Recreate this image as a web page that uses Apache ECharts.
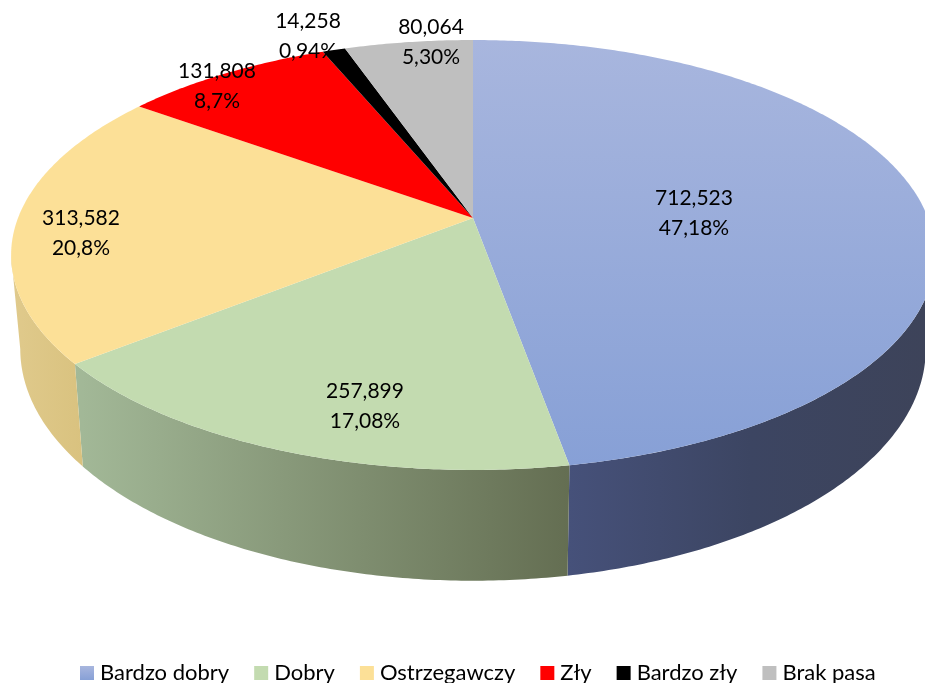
<!DOCTYPE html>
<html>
<head>
<meta charset="utf-8">
<style>html,body{margin:0;padding:0;background:#fff}#c{width:925px;height:683px}</style>
<script src="https://cdn.jsdelivr.net/npm/echarts@6/dist/echarts.min.js"></script>
</head>
<body>
<div id="c"></div>
<script>
var categories = ['Bardzo dobry', 'Dobry', 'Ostrzegawczy', 'Zły', 'Bardzo zły', 'Brak pasa'];
var values = [712523, 257899, 313582, 131808, 14258, 80064];
var valueLabels = ['712,523', '257,899', '313,582', '131,808', '14,258', '80,064'];
var percentLabels = ['47,18%', '17,08%', '20,8%', '8,7%', '0,94%', '5,30%'];

/* styling and layout, kept apart from the data */
var topColors = [['#a8b6de', '#87a0d6'], ['#c3dbb0', '#c3dbb0'], ['#fce097', '#fce097'], ['#ff0000', '#ff0000'], ['#000000', '#000000'], ['#bfbfbf', '#bfbfbf']];
var wallColors = [['#46517a', '#3c4562', '#3d4359'], ['#a3b998', '#646e52'], ['#e0ca8c', '#d9c27f'], ['#8c0000', '#8c0000'], ['#000000', '#000000'], ['#707070', '#707070']];
var labelAnchors = [[694, 213], [365, 406], [81, 233], [217, 86], [308, 36], [431, 42]];
var topDisc = { cx: 473, cy: 218, sx: 455, sy: 208.6, persp: -0.172 };
var baseDisc = { cx: 473, cy: 309, sx: 446, sy: 225, persp: -0.172 };
var FONT = 'Lato, Carlito, Calibri, sans-serif';

var total = values.reduce(function (a, b) { return a + b; }, 0);

function project(d, theta) {
  var s = Math.sin(theta), u = -Math.cos(theta), den = 1 + d.persp * u;
  return [d.cx + d.sx * s / den, d.cy + d.sy * u / den];
}
function arc(d, a0, a1) {
  var pts = [], n = Math.max(2, Math.ceil((a1 - a0) / 0.01));
  for (var i = 0; i <= n; i++) pts.push(project(d, a0 + (a1 - a0) * i / n));
  return pts;
}
function grad(c, vertical) {
  return { type: 'linear', x: 0, y: 0, x2: vertical ? 0 : 1, y2: vertical ? 1 : 0,
    colorStops: c.map(function (col, k) { return { offset: k / (c.length - 1), color: col }; }) };
}
/* the visible side wall runs between the two silhouette angles of the projected disc */
var wallFrom = Math.acos(topDisc.persp);
var wallTo = Math.PI * 2 - wallFrom;

var series = categories.map(function (name, i) {
  return {
    type: 'custom',
    name: name,
    coordinateSystem: 'none',
    clip: false,
    itemStyle: { color: grad(topColors[i], true) },
    data: [[values[i]]],
    renderItem: function (params, api) {
      var before = 0;
      for (var k = 0; k < i; k++) before += values[k];
      var a0 = before / total * Math.PI * 2;
      var a1 = (before + api.value(0)) / total * Math.PI * 2;
      var children = [];
      var w0 = Math.max(a0, wallFrom), w1 = Math.min(a1, wallTo);
      if (w1 > w0) {
        children.push({ type: 'polygon', z2: 1,
          shape: { points: arc(topDisc, w0, w1).concat(arc(baseDisc, w0, w1).reverse()) },
          style: { fill: grad(wallColors[i], false) } });
      }
      children.push({ type: 'polygon', z2: 2,
        shape: { points: [[topDisc.cx, topDisc.cy]].concat(arc(topDisc, a0, a1)) },
        style: { fill: grad(topColors[i], true) } });
      children.push({ type: 'text', z2: 3, x: labelAnchors[i][0], y: labelAnchors[i][1],
        style: { text: valueLabels[i] + '\n' + percentLabels[i], fill: '#000',
          font: '21px ' + FONT, lineHeight: 30, align: 'center', verticalAlign: 'middle' } });
      return { type: 'group', children: children };
    }
  };
});

var chart = echarts.init(document.getElementById('c'), null, { renderer: 'canvas' });
chart.setOption({
  animation: false,
  backgroundColor: '#fff',
  legend: {
    data: categories,
    icon: 'rect',
    left: 80,
    top: 662,
    padding: 0,
    itemWidth: 14,
    itemHeight: 14,
    itemGap: 25,
    selectedMode: false,
    textStyle: { fontFamily: FONT, fontSize: 22, color: '#000', padding: [0, 0, 3, 1] }
  },
  series: series
});
</script>
</body>
</html>
